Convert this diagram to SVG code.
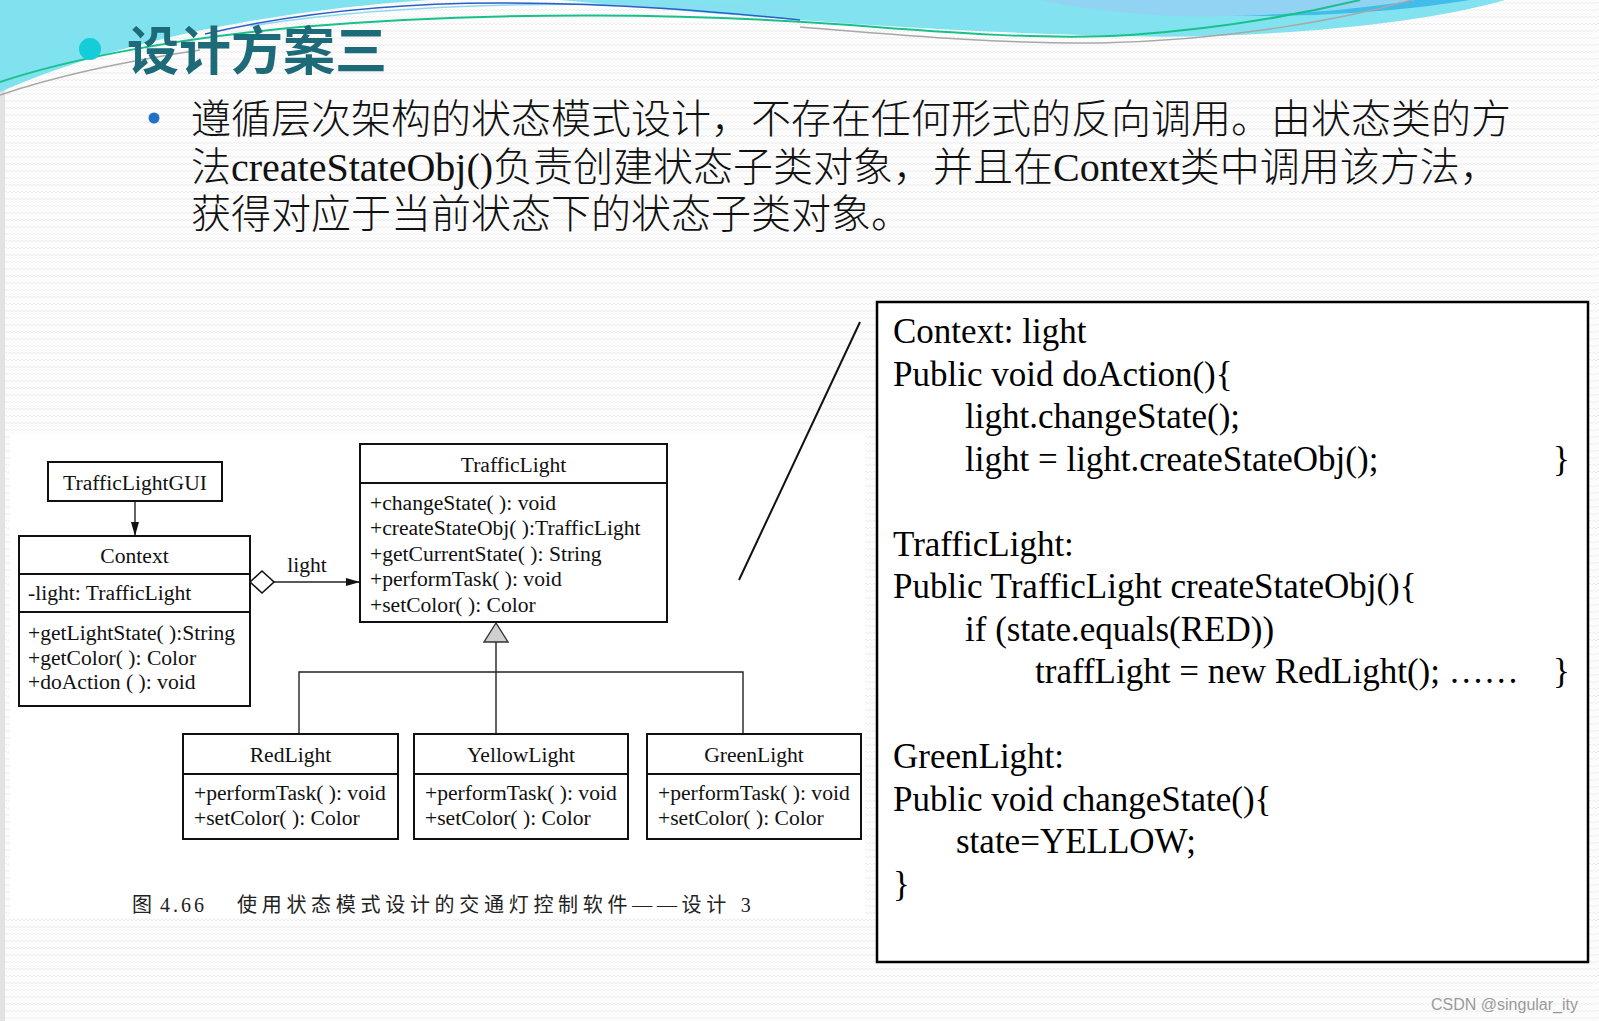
<svg xmlns="http://www.w3.org/2000/svg" width="1599" height="1021" viewBox="0 0 1599 1021">
<defs>
<pattern id="tex" width="8" height="7" patternUnits="userSpaceOnUse">
<rect width="8" height="7" fill="#fcfcfc"/>
<path d="M0,4 L2,2 L4,4 L6,2 L8,4" fill="none" stroke="#ececec" stroke-width="0.8"/>
</pattern>
<marker id="arr" viewBox="0 0 14 8" refX="14" refY="4" markerWidth="14" markerHeight="8" markerUnits="userSpaceOnUse" orient="auto">
<path d="M0,0 L14,4 L0,8 Z" fill="#111"/>
</marker>
<style>
.box{fill:#fff;stroke:#111;stroke-width:2}
.div{stroke:#111;stroke-width:1.8}
.uml{font-family:"Liberation Serif","Times New Roman",serif;font-size:21.6px;fill:#111}
.ttl{text-anchor:middle}
.con{fill:none;stroke:#222;stroke-width:1.4}
.code{font-family:"Liberation Serif","Times New Roman",serif;font-size:35px;fill:#000}
.para{font-family:"Liberation Serif","Noto Sans CJK SC",serif;font-size:40px;font-weight:300;fill:#111}
</style>
</defs>
<rect width="1599" height="1021" fill="url(#tex)"/>
<rect x="0" y="0" width="5" height="1021" fill="#e2e2e2"/>
<!-- decoration -->
<path d="M0,0 H430 C300,8 130,35 0,92 Z" fill="#7fe2ee"/>
<path d="M560,0 H1505 C1420,25 1250,40 1120,36 C950,32 800,22 560,0 Z" fill="#82e2ef"/>
<path d="M1040,0 H1415 C1330,12 1240,18 1170,16 C1110,12 1070,6 1040,0 Z" fill="#92d2f2"/>
<path d="M1230,16 C1310,14 1375,7 1415,0 H1470 C1410,10 1330,17 1230,16 Z" fill="#42bce8"/>
<path d="M250,26 C400,2 600,0 800,10" fill="none" stroke="#8fdaf2" stroke-width="1.5"/>
<path d="M205,34 C300,12 400,3 500,3 C620,3 720,12 800,20" fill="none" stroke="#2a5fc8" stroke-width="1.5"/>
<path d="M0,82 C60,62 160,40 300,27 C500,10 700,14 850,25 C950,33 1050,40 1130,35 C1230,28 1310,12 1360,0" fill="none" stroke="#18c08c" stroke-width="2"/>
<path d="M0,95 C50,78 120,62 200,50" fill="none" stroke="#a8a8a8" stroke-width="1.5"/>
<path d="M800,27 C900,35 1000,44 1100,43 C1230,40 1340,20 1412,0" fill="none" stroke="#a8a8a8" stroke-width="1.5"/>
<!-- title -->
<circle cx="90" cy="49" r="11" fill="#14cdd8"/>
<text x="127" y="70" font-family="Noto Sans CJK SC, sans-serif" font-size="52" font-weight="700" fill="#1d6b78">设计方案三</text>
<circle cx="154" cy="118" r="5.5" fill="#2071c8"/>
<text class="para" x="191" y="133">遵循层次架构的状态模式设计，不存在任何形式的反向调用。由状态类的方</text>
<text class="para" x="191" y="181">法createStateObj()负责创建状态子类对象，并且在Context类中调用该方法，</text>
<text class="para" x="191" y="228">获得对应于当前状态下的状态子类对象。</text>
<!-- figure -->
<rect x="10" y="434" width="855" height="484" fill="#fff"/>
<g id="connectors">
<line class="con" x1="135" y1="501" x2="135" y2="536" marker-end="url(#arr)"/>
<line class="con" x1="274" y1="582" x2="360" y2="582" marker-end="url(#arr)"/>
<polygon points="250,582 262,571 274,582 262,593" fill="#fff" stroke="#111" stroke-width="1.6"/>
<text class="uml ttl" x="307" y="572">light</text>
<polyline class="con" points="299,734 299,672 743,672 743,734"/>
<line class="con" x1="496" y1="642" x2="496" y2="734"/>
<polygon points="496,623 484,642 508,642" fill="#cfcfcf" stroke="#333" stroke-width="1.4"/>
<line x1="860" y1="322" x2="739" y2="580" stroke="#111" stroke-width="2"/>
</g>
<g id="node-trafficlightgui">
<rect class="box" x="48" y="462" width="174" height="39"/>
<text class="uml ttl" x="135" y="490">TrafficLightGUI</text>
</g>
<g id="node-context">
<rect class="box" x="19" y="536" width="231" height="170"/>
<line class="div" x1="19" y1="574" x2="250" y2="574"/>
<line class="div" x1="19" y1="612" x2="250" y2="612"/>
<text class="uml ttl" x="134.5" y="563">Context</text>
<text class="uml" x="28" y="600">-light: TrafficLight</text>
<text class="uml" x="28" y="640">+getLightState( ):String</text>
<text class="uml" x="28" y="665">+getColor( ): Color</text>
<text class="uml" x="28" y="689">+doAction ( ): void</text>
</g>
<g id="node-trafficlight">
<rect class="box" x="360" y="444" width="307" height="178"/>
<line class="div" x1="360" y1="483" x2="667" y2="483"/>
<text class="uml ttl" x="513.5" y="472">TrafficLight</text>
<text class="uml" x="370" y="510">+changeState( ): void</text>
<text class="uml" x="370" y="535">+createStateObj( ):TrafficLight</text>
<text class="uml" x="370" y="561">+getCurrentState( ): String</text>
<text class="uml" x="370" y="586">+performTask( ): void</text>
<text class="uml" x="370" y="612">+setColor( ): Color</text>
</g>
<g id="node-redlight">
<rect class="box" x="183" y="734" width="215" height="105"/>
<line class="div" x1="183" y1="774" x2="398" y2="774"/>
<text class="uml ttl" x="290.5" y="762">RedLight</text>
<text class="uml" x="194" y="800">+performTask( ): void</text>
<text class="uml" x="194" y="825">+setColor( ): Color</text>
</g>
<g id="node-yellowlight">
<rect class="box" x="414" y="734" width="214" height="105"/>
<line class="div" x1="414" y1="774" x2="628" y2="774"/>
<text class="uml ttl" x="521" y="762">YellowLight</text>
<text class="uml" x="425" y="800">+performTask( ): void</text>
<text class="uml" x="425" y="825">+setColor( ): Color</text>
</g>
<g id="node-greenlight">
<rect class="box" x="647" y="734" width="214" height="105"/>
<line class="div" x1="647" y1="774" x2="861" y2="774"/>
<text class="uml ttl" x="754" y="762">GreenLight</text>
<text class="uml" x="658" y="800">+performTask( ): void</text>
<text class="uml" x="658" y="825">+setColor( ): Color</text>
</g>
<g id="caption" font-family="Liberation Serif, Noto Sans CJK SC, serif" font-size="20" fill="#222">
<text x="132" y="912">图</text>
<text x="160" y="912" letter-spacing="3">4.66</text>
<text x="237" y="912" letter-spacing="4.7">使用状态模式设计的交通灯控制软件——设计 3</text>
</g>
<!-- code box -->
<g id="node-code">
<rect x="877" y="302" width="711" height="660" fill="#fff" stroke="#000" stroke-width="2.5"/>
<text class="code" x="893" y="343">Context: light</text>
<text class="code" x="893" y="385.5">Public void doAction(){</text>
<text class="code" x="965" y="428">light.changeState();</text>
<text class="code" x="965" y="470.5">light = light.createStateObj();</text>
<text class="code" x="1553" y="470.5">}</text>
<text class="code" x="893" y="555.5">TrafficLight:</text>
<text class="code" x="893" y="598">Public TrafficLight createStateObj(){</text>
<text class="code" x="965" y="640.5">if (state.equals(RED))</text>
<text class="code" x="1035" y="683">traffLight = new RedLight(); ……</text>
<text class="code" x="1553" y="683">}</text>
<text class="code" x="893" y="768">GreenLight:</text>
<text class="code" x="893" y="810.5">Public void changeState(){</text>
<text class="code" x="956" y="853">state=YELLOW;</text>
<text class="code" x="893" y="895.5">}</text>
</g>
<text x="1431" y="1010" font-family="Liberation Sans, Arial, sans-serif" font-size="16" fill="#9a9a9a">CSDN @singular_ity</text>
</svg>
